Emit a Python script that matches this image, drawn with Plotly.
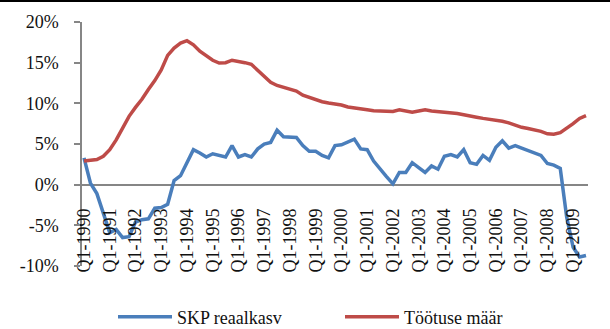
import plotly.graph_objects as go

# Quarterly categories Q1-1990 .. Q3-2009
years = list(range(1990, 2010))
quarters = [f"Q{q}-{y}" for y in years for q in (1, 2, 3, 4)][:79]

# Real GDP growth, % y/y
skp_reaalkasv = [
    3.3, 0.2, -1.1, -3.6, -5.9, -5.5, -6.5, -6.4, -4.6, -4.3,
    -4.2, -2.9, -2.8, -2.4, 0.5, 1.1, 2.8, 4.3, 3.9, 3.4,
    3.8, 3.6, 3.4, 4.8, 3.4, 3.7, 3.4, 4.4, 5.0, 5.2,
    6.7, 5.9, 5.8, 5.8, 4.8, 4.1, 4.1, 3.6, 3.3, 4.8,
    4.9, 5.2, 5.6, 4.4, 4.3, 2.9, 1.9, 1.0, 0.1, 1.5,
    1.5, 2.7, 2.1, 1.5, 2.3, 1.9, 3.5, 3.7, 3.4, 4.3,
    2.7, 2.5, 3.6, 3.0, 4.6, 5.4, 4.5, 4.8, 4.5, 4.2,
    4.0, 3.6, 2.6, 2.4, 2.0, -4.0, -7.7, -8.9, -8.7,
]

# Unemployment rate, %
tootuse_maar = [
    2.9, 2.95, 3.1, 3.5, 4.3, 5.5, 7.0, 8.4, 9.5, 10.5,
    11.7, 12.8, 14.1, 15.9, 16.8, 17.4, 17.7, 17.2, 16.4, 15.8,
    15.3, 14.95, 15.0, 15.3, 15.2, 15.0, 14.8, 14.1, 13.3, 12.6,
    12.2, 11.95, 11.8, 11.5, 11.0, 10.7, 10.5, 10.2, 10.05, 9.95,
    9.8, 9.55, 9.4, 9.3, 9.2, 9.1, 9.05, 9.0, 9.0, 9.2,
    9.05, 8.9, 9.05, 9.2, 9.05, 9.0, 8.95, 8.9, 8.75, 8.6,
    8.5, 8.3, 8.15, 8.05, 7.95, 7.8, 7.6, 7.3, 7.05, 6.9,
    6.75, 6.55, 6.25, 6.2, 6.4, 6.9, 7.5, 8.15, 8.5,
]

y_tickvals = [-10, -5, 0, 5, 10, 15, 20]
y_ticktext = ["-10%", "-5%", "0%", "5%", "10%", "15%", "20%"]
x_tickvals = quarters[::4]

FONT = "'Liberation Serif', 'Times New Roman', Tinos, 'DejaVu Serif', serif"
FS = 18
BLUE = "#4A7EBB"
RED = "#BE4B48"
GRAY = "#868686"
TXT = "#111111"

fig = go.Figure()
fig.add_trace(go.Scatter(
    x=quarters, y=skp_reaalkasv, mode="lines", name="SKP reaalkasv",
    line=dict(color=BLUE, width=3.5),
))
fig.add_trace(go.Scatter(
    x=quarters, y=tootuse_maar, mode="lines", name="Töötuse määr",
    line=dict(color=RED, width=3.5),
))

W, H = 610, 329
L, R, T, B = 82, 22, 22, 63
pw = W - L - R
ph = H - T - B

# category labels hang from a free-floating axis placed below the zero line
label_axis_y = 204
label_pos = (H - B - label_axis_y) / ph

fig.update_layout(
    width=W, height=H,
    margin=dict(l=L, r=R, t=T, b=B, autoexpand=False),
    paper_bgcolor="white", plot_bgcolor="white",
    font=dict(family=FONT, size=FS, color=TXT),
    showlegend=True,
    legend=dict(
        orientation="h", xref="container", yref="container",
        x=113 / W, y=1 - 317 / H, xanchor="left", yanchor="middle",
        itemwidth=54, entrywidth=158, entrywidthmode="pixels",
        font=dict(family=FONT, size=FS, color=TXT),
        bgcolor="rgba(0,0,0,0)",
    ),
    xaxis=dict(
        type="category",
        range=[-0.31, 78.31],
        anchor="free", position=label_pos,
        tickmode="array", tickvals=x_tickvals, ticktext=x_tickvals,
        tickangle=-90, ticks="", showgrid=False, showline=False,
        zeroline=False,
        tickfont=dict(family=FONT, size=FS, color=TXT),
    ),
    yaxis=dict(
        range=[-10, 20],
        tickmode="array", tickvals=y_tickvals, ticktext=y_ticktext,
        showgrid=False, zeroline=True, zerolinecolor=GRAY, zerolinewidth=1.5,
        showline=True, linecolor=GRAY, linewidth=1.5,
        ticks="outside", ticklen=6, tickcolor=GRAY, tickwidth=1.5,
        ticklabelstandoff=12,
        tickfont=dict(family=FONT, size=FS, color=TXT),
    ),
    shapes=[dict(
        type="line", xref="paper", yref="paper",
        x0=-L / pw, x1=(W - L) / pw,
        y0=1 + (T - 1) / ph, y1=1 + (T - 1) / ph,
        line=dict(color="black", width=2),
    )],
)

fig.write_html("out.html")
